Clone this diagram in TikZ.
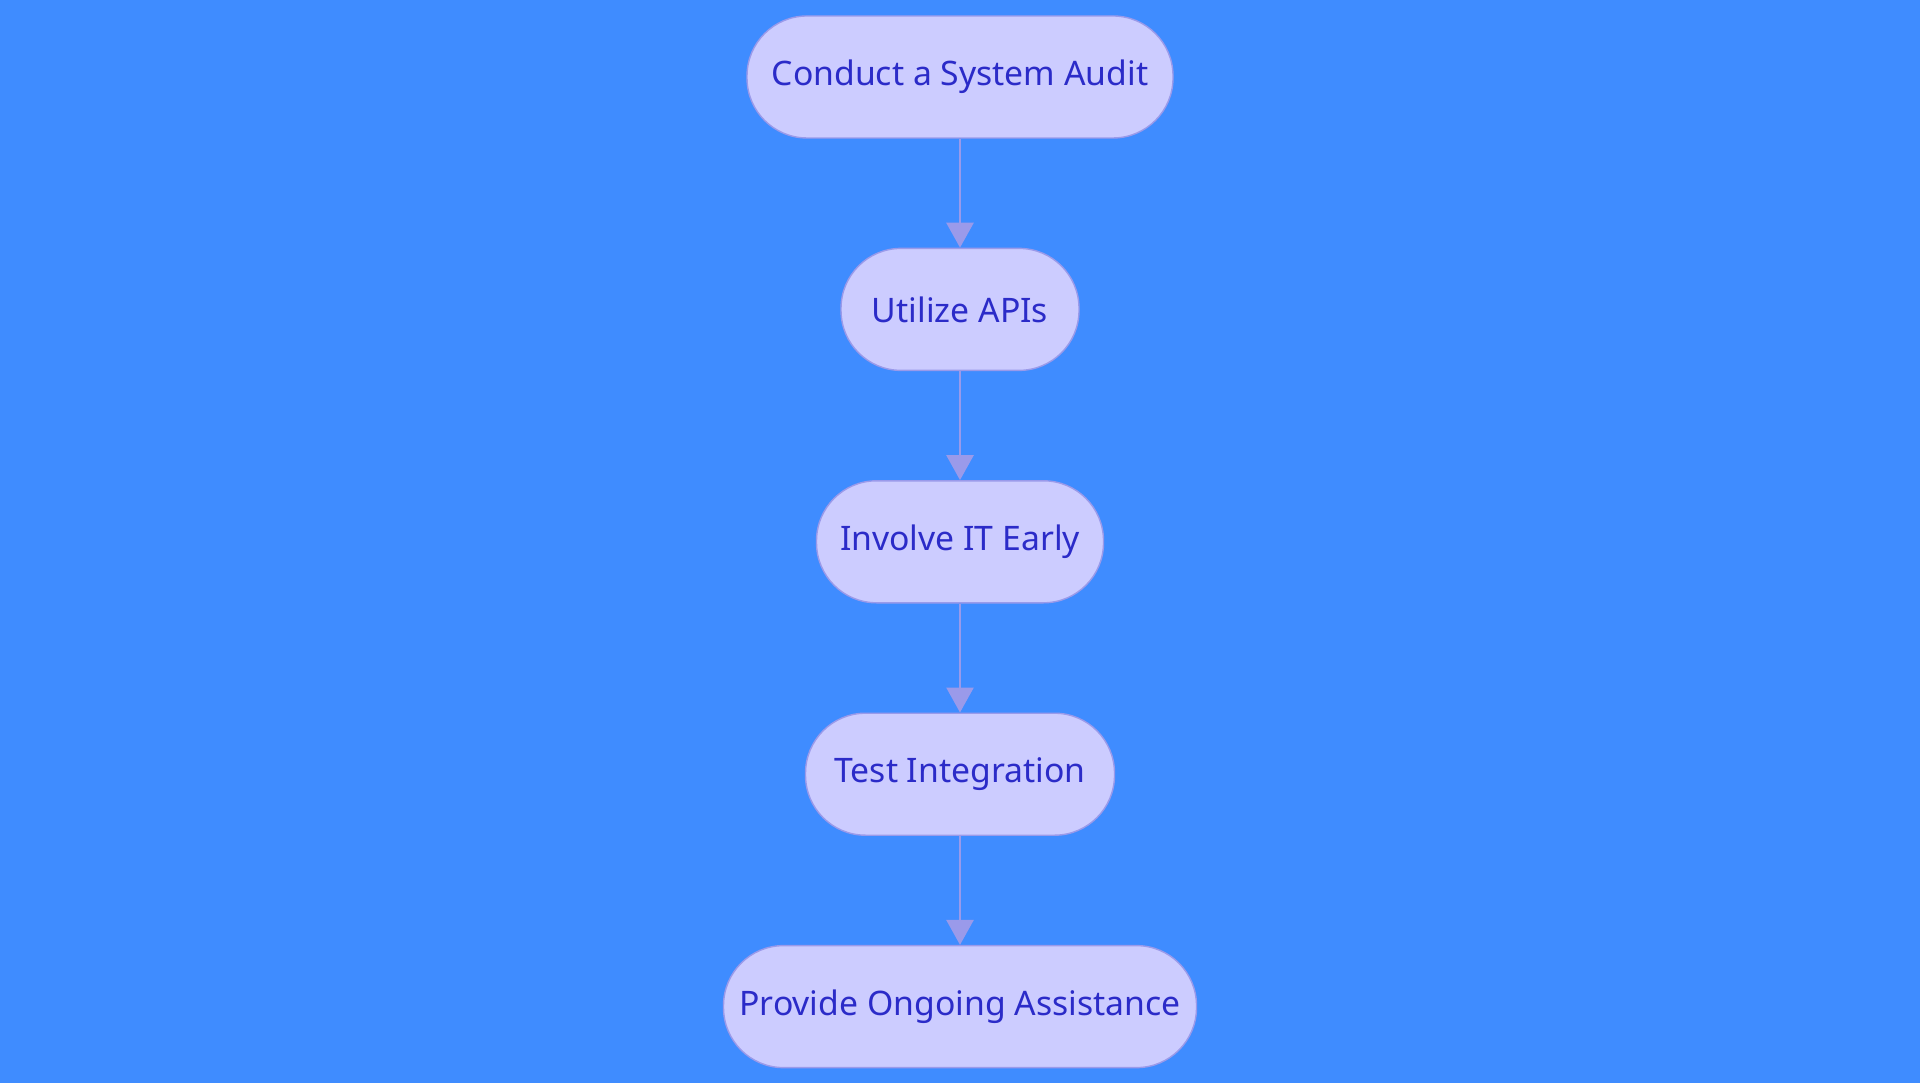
\documentclass[tikz,border=0pt]{standalone}
\usepackage{fontspec}
\setmainfont{Noto Sans}
\usetikzlibrary{positioning,arrows.meta}
\definecolor{bgblue}{HTML}{3F8CFF}
\definecolor{stepfill}{HTML}{CCCCFF}
\definecolor{stepline}{HTML}{9A9AEA}
\definecolor{steptext}{HTML}{2B2BC8}

\begin{document}
\begin{tikzpicture}[
        stage/.style={rectangle,draw=stepline,fill=stepfill,rounded corners=0.6cm,minimum height=1.22cm,text=steptext,font=\fontsize{9.6}{11}\selectfont},
        flow/.style={draw=stepline,line width=0.8pt,-{Triangle[width=0.27cm,length=0.25cm]}},
        node distance=1.09cm
    ]
            \fill[bgblue] (0, 0) rectangle (19.2, 10.83);
            \useasboundingbox (0, 0) rectangle (19.2, 10.83);

            \node[stage,minimum width=4.26cm] (audit) at (9.6, 10.06) {Conduct a System Audit};
            \node[stage,minimum width=2.38cm,below=of audit] (apis) {Utilize APIs};
            \node[stage,minimum width=2.87cm,below=of apis] (involve) {Involve IT Early};
            \node[stage,minimum width=3.09cm,below=of involve] (test) {Test Integration};
            \node[stage,minimum width=4.73cm,below=of test] (assist) {Provide Ongoing Assistance};

            \draw [flow](audit) -- (apis);
            \draw [flow](apis) -- (involve);
            \draw [flow](involve) -- (test);
            \draw [flow](test) -- (assist);
        \end{tikzpicture}
\end{document}
